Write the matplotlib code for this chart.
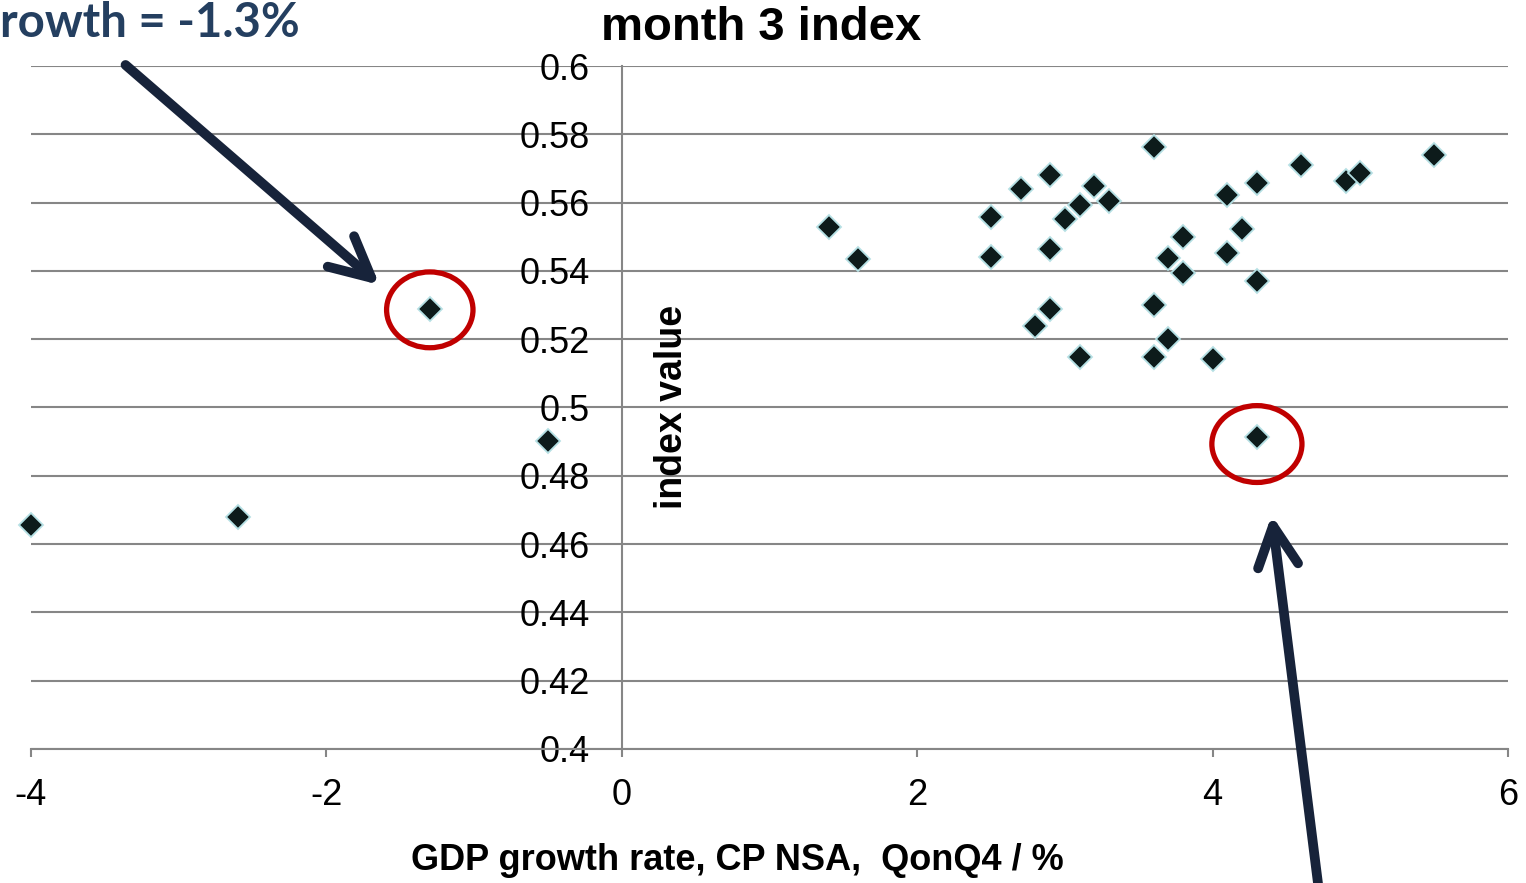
import matplotlib
matplotlib.use("Agg")
import matplotlib.pyplot as plt
from matplotlib.patches import Ellipse
import numpy as np

# GDP growth (QonQ4, %) vs month 3 index value
gdp_growth = [-4.0, -2.6, -1.3, -0.5, 1.4, 1.6, 2.5, 2.5, 2.7, 2.9, 2.9, 2.9,
              2.8, 3.0, 3.1, 3.2, 3.3, 3.1, 3.6, 3.6, 3.6, 3.7, 3.7, 3.8,
              3.8, 4.0, 4.1, 4.1, 4.2, 4.3, 4.3, 4.3, 4.6, 4.9, 5.0, 5.5]
index_value = [0.4656, 0.4679, 0.5288, 0.4902, 0.5529, 0.5435, 0.5558, 0.5441,
               0.5640, 0.5681, 0.5464, 0.5288, 0.5239, 0.5552, 0.5593, 0.5649,
               0.5605, 0.5148, 0.5763, 0.5300, 0.5148, 0.5438, 0.5200, 0.5499,
               0.5394, 0.5142, 0.5622, 0.5452, 0.5523, 0.5657, 0.5370, 0.4914,
               0.5710, 0.5663, 0.5687, 0.5739]

x_ticks = [-4, -2, 0, 2, 4, 6]
y_ticks = [0.4, 0.42, 0.44, 0.46, 0.48, 0.5, 0.52, 0.54, 0.56, 0.58, 0.6]
y_ticklabels = ["0.4", "0.42", "0.44", "0.46", "0.48", "0.5", "0.52", "0.54",
                "0.56", "0.58", "0.6"]

# highlighted quarters
highlights = [(-1.3, 0.5288), (4.3, 0.4914)]

W, H = 1526, 883
GRID = "#868686"
NAVY = "#17233a"

plt.rcParams["font.family"] = ["Liberation Sans", "DejaVu Sans"]

fig = plt.figure(figsize=(W / 100, H / 100), dpi=100)
ax = fig.add_axes([31 / W, 1 - 749 / H, (1508 - 31) / W, (749 - 66) / H])

ax.set_xlim(-4, 6)
ax.set_ylim(0.4, 0.6)

for s in ["top", "right"]:
    ax.spines[s].set_visible(False)
ax.spines["left"].set_position(("data", 0))
ax.spines["left"].set_color(GRID)
ax.spines["left"].set_linewidth(1.5)
ax.spines["bottom"].set_color(GRID)
ax.spines["bottom"].set_linewidth(1.5)

ax.set_yticks(y_ticks)
ax.set_yticklabels(y_ticklabels)
ax.set_xticks(x_ticks)
ax.tick_params(axis="y", length=0, pad=23, labelsize=26)
ax.tick_params(axis="x", length=6, width=1.5, color=GRID, pad=15, labelsize=26)
ax.set_xticklabels([str(t) for t in x_ticks])

ax.yaxis.grid(True, color=GRID, linewidth=1.5)
ax.set_axisbelow(True)

ax.plot(gdp_growth, index_value, linestyle="none", marker="D", markersize=12,
        markerfacecolor="#0d1b1b", markeredgecolor="#b5e0e4",
        markeredgewidth=1.3, zorder=3, clip_on=False)

# red rings round the two quarters of interest
ax.add_patch(Ellipse((highlights[0][0], highlights[0][1] - 0.0002), 0.585, 0.0222,
                     fill=False, edgecolor="#c00000", linewidth=3.8, zorder=4))
ax.add_patch(Ellipse((highlights[1][0], highlights[1][1] - 0.0021), 0.61, 0.0225,
                     fill=False, edgecolor="#c00000", linewidth=3.8, zorder=4))

arrow = dict(arrowstyle="->,head_length=1.0,head_width=0.5", mutation_scale=29,
             color=NAVY, linewidth=7, capstyle="round", joinstyle="round",
             shrinkA=0, shrinkB=0)
ax.annotate("", xy=(-1.64, 0.5359), xytext=(-3.36, 0.6003),
            arrowprops=arrow, annotation_clip=False)
ax.annotate("", xy=(4.40, 0.4685), xytext=(4.73, 0.355),
            arrowprops=arrow, annotation_clip=False)

fig.text(761 / W, 1 - 28 / H, "month 3 index", ha="center", va="center",
         fontsize=34, fontweight="bold")
fig.text(0, 1 - 23 / H, "rowth = -1.3%", ha="left", va="center",
         fontsize=34, fontweight="bold", color="#243f60",
         family=["Lato", "DejaVu Sans"])
fig.text(672 / W, 1 - 407 / H, "index value", ha="center", va="center",
         rotation=90, fontsize=27, fontweight="bold")
fig.text(737 / W, 1 - 861 / H, "GDP growth rate, CP NSA,  QonQ4 / %",
         ha="center", va="center", fontsize=26, fontweight="bold")

fig.savefig("out.png", dpi=100)
